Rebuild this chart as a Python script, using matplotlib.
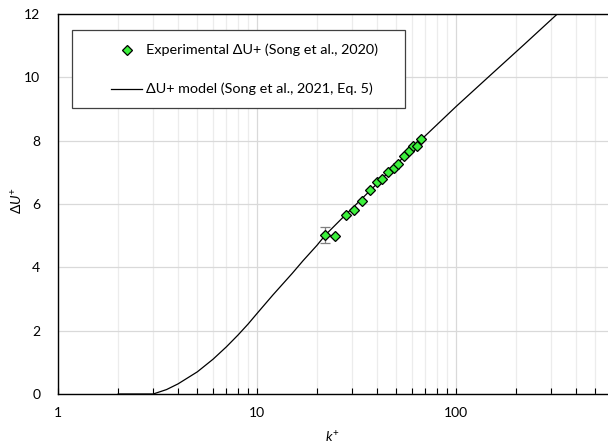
import matplotlib
matplotlib.use("Agg")
import matplotlib.pyplot as plt
from matplotlib.patches import Rectangle
from matplotlib.lines import Line2D
from matplotlib.ticker import LogLocator, FixedLocator, NullFormatter

plt.rcParams["font.family"] = ["Lato", "DejaVu Sans"]
plt.rcParams["mathtext.fontset"] = "custom"
plt.rcParams["mathtext.rm"] = "Lato"
plt.rcParams["mathtext.it"] = "Lato:italic"

# experimental roughness function
exp_kplus = [22.0, 24.7, 27.9, 30.6, 33.6, 36.8, 39.8, 42.5, 45.7, 48.6,
             51.3, 55.0, 57.9, 60.6, 63.5, 66.7]
exp_dU = [5.02, 4.99, 5.65, 5.81, 6.08, 6.44, 6.68, 6.78, 7.01, 7.13,
          7.27, 7.52, 7.67, 7.84, 7.83, 8.05]
exp_err = [0.26]

# model curve
model_kplus = [2.0, 2.5, 3.0, 3.5, 4.0, 5.0, 6.0, 7.0, 8.0, 9.0, 10.0, 12.0,
               15.0, 17.0, 20.0, 22.0, 27.0, 33.0, 40.0, 50.0, 68.0, 100.0,
               150.0, 220.0, 320.0]
model_dU = [0.0, 0.0, 0.0, 0.14, 0.32, 0.70, 1.10, 1.49, 1.86, 2.21, 2.55, 3.13,
            3.81, 4.21, 4.70, 5.02, 5.58, 6.12, 6.64, 7.25, 8.08, 9.08,
            10.09, 11.04, 11.98]

labels = ["Experimental ΔU+ (Song et al., 2020)",
          "ΔU+ model (Song et al., 2021, Eq. 5)"]

green = "#3cf03c"

fig = plt.figure(figsize=(6.08, 4.44), dpi=100)
ax = fig.add_axes([58.3 / 608, 50 / 444, 1 - 58.3 / 608, 380 / 444])

ax.set_xscale("log")
ax.set_xlim(1, 580)
ax.set_ylim(0, 12)

ax.plot(model_kplus, model_dU, color="black", lw=0.9, zorder=3)
ax.errorbar(exp_kplus[:1], exp_dU[:1], yerr=exp_err, fmt="none",
            ecolor="#7f7f7f", elinewidth=0.9, capsize=3.5, capthick=0.9, zorder=4)
ax.plot(exp_kplus, exp_dU, linestyle="none", marker="D", markersize=5.6,
        markerfacecolor=green, markeredgecolor="black", markeredgewidth=0.9,
        zorder=5)

# grid
ax.set_yticks([0, 2, 4, 6, 8, 10, 12])
ax.yaxis.grid(True, color="#d9d9d9", lw=0.9)
ax.xaxis.set_major_locator(FixedLocator([1, 10, 100]))
ax.xaxis.set_major_formatter(matplotlib.ticker.FuncFormatter(lambda v, p: f"{v:g}"))
ax.xaxis.set_minor_locator(LogLocator(base=10, subs=range(2, 10), numticks=20))
ax.xaxis.set_minor_formatter(NullFormatter())
ax.xaxis.grid(True, which="major", color="#d9d9d9", lw=0.9)
ax.xaxis.grid(True, which="minor", color="#ececec", lw=0.9)
ax.set_axisbelow(True)

ax.tick_params(axis="y", length=0, pad=13, labelsize=10)
ax.tick_params(axis="x", which="both", direction="in", length=4, width=0.8,
               pad=9, labelsize=10)

for s in ["left", "bottom", "top"]:
    ax.spines[s].set_color("black")
    ax.spines[s].set_linewidth(1.0)
ax.spines["right"].set_visible(False)

ax.set_xlabel(r"$k^{+}$", fontsize=10)
ax.xaxis.set_label_coords(0.498, -0.094)
ax.set_ylabel(r"$ΔU^{+}$", fontsize=10)
ax.yaxis.set_label_coords(-0.06, 0.51)

# legend box, drawn by hand to match the spacing
tr = ax.transAxes
ax.add_patch(Rectangle((0.0249, 0.7526), 0.6058, 0.2053, transform=tr,
                       facecolor="white", edgecolor="#404040", lw=0.9, zorder=6))
ax.add_line(Line2D([0.1250], [0.9053], transform=tr, marker="D", markersize=5.6,
                   markerfacecolor=green, markeredgecolor="black",
                   markeredgewidth=0.9, linestyle="none", zorder=7))
ax.add_line(Line2D([0.0953, 0.1517], [0.8034, 0.8034], transform=tr,
                   color="black", lw=0.9, zorder=7))
ax.text(0.1596, 0.9053, labels[0], transform=tr, fontsize=10.4,
        va="center", ha="left", zorder=7)
ax.text(0.1596, 0.8034, labels[1], transform=tr, fontsize=10.4,
        va="center", ha="left", zorder=7)

fig.savefig("out.png", dpi=100)
